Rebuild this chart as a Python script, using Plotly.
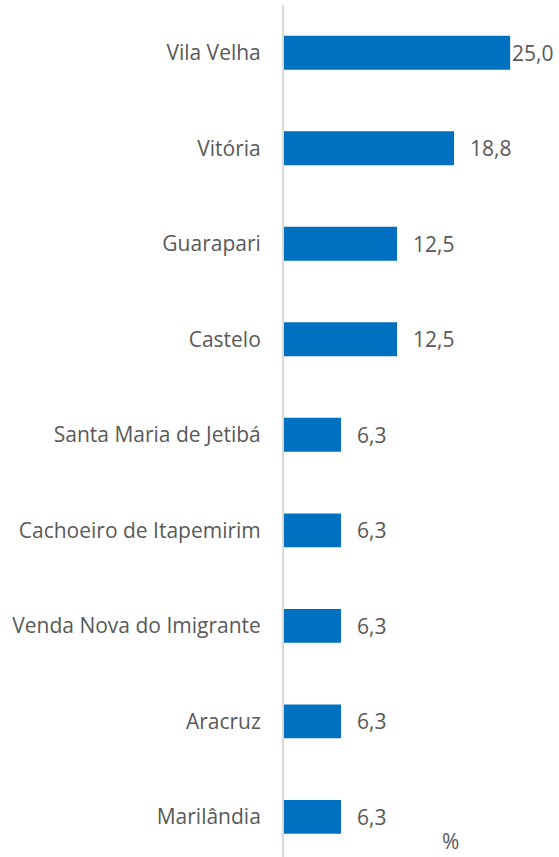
import plotly.graph_objects as go

categories = ["Vila Velha", "Vitória", "Guarapari", "Castelo", "Santa Maria de Jetibá",
              "Cachoeiro de Itapemirim", "Venda Nova do Imigrante", "Aracruz", "Marilândia"]
values = [25.0, 18.8, 12.5, 12.5, 6.3, 6.3, 6.3, 6.3, 6.3]
unit_label = "%"

BLUE = "#0070C0"
TXT = "#595959"
FONT = "Open Sans"
FS = 21

fig = go.Figure(go.Bar(
    x=values, y=categories, orientation="h",
    marker=dict(color=BLUE, line=dict(width=0)),
    width=0.355,
    hoverinfo="skip",
))

vmax = max(values)
for v, c in zip(values, categories):
    fig.add_annotation(x=v, y=c, xref="x", yref="y", text=f"{v:.1f}".replace(".", ","),
                       showarrow=False, xanchor="left", yanchor="middle",
                       xshift=0 if v == vmax else 14,
                       font=dict(family=FONT, size=FS, color=TXT))

fig.add_annotation(x=0.604, y=0.0, xref="paper", yref="paper", text=unit_label,
                   showarrow=False, xanchor="center", yanchor="bottom",
                   font=dict(family=FONT, size=FS, color=TXT))

fig.update_layout(
    width=559, height=857,
    margin=dict(l=284, r=0, t=5, b=0, autoexpand=False),
    paper_bgcolor="white", plot_bgcolor="white",
    showlegend=False,
    separators=",.",
    xaxis=dict(range=[0, 30.4], showgrid=False, zeroline=False, showticklabels=False,
               showline=False, fixedrange=True, automargin=False),
    yaxis=dict(type="category", categoryorder="array", categoryarray=categories,
               range=[8.42, -0.5], showgrid=False, zeroline=False,
               showline=True, linecolor="#D9D9D9", linewidth=2,
               ticks="", ticklabelstandoff=17, automargin=False,
               tickfont=dict(family=FONT, size=FS, color=TXT)),
)

fig.write_html("out.html", config={"displayModeBar": False},
               post_script="document.body.style.margin='0';document.body.style.padding='0';document.body.style.overflow='hidden';")
